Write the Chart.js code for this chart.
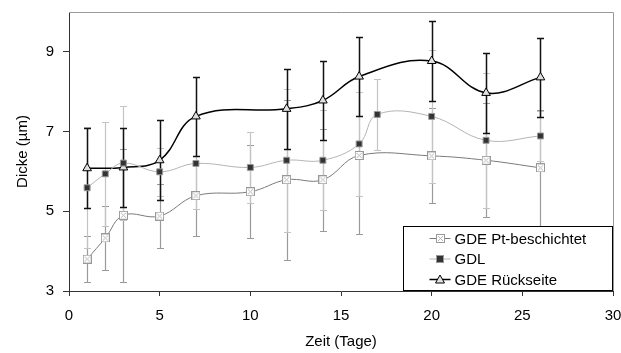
<!DOCTYPE html>
<html>
<head>
<meta charset="utf-8">
<script src="https://cdn.jsdelivr.net/npm/chart.js@4/dist/chart.umd.min.js"></script>
<style>
  html, body { margin: 0; padding: 0; background: #fff; }
</style>
</head>
<body>
<canvas id="thicknessChart" width="621" height="353"></canvas>
<script>
// --- DATA ---
const ptDays   = [1, 2, 3, 5, 7, 10, 12, 14, 16, 20, 23, 26];
const ptThick  = [3.8, 4.33, 4.9, 4.88, 5.39, 5.49, 5.79, 5.79, 6.4, 6.39, 6.28, 6.09];
const ptErr    = [0.57, 0.8, 1.67, 0.8, 1.0, 1.17, 2.0, 1.28, 1.96, 1.19, 1.43, 1.45];

const gdlDays  = [1, 2, 3, 5, 7, 10, 12, 14, 16, 17, 20, 23, 26];
const gdlThick = [5.59, 5.94, 6.21, 5.99, 6.2, 6.1, 6.28, 6.28, 6.69, 7.43, 7.38, 6.78, 6.89];
const gdlErr   = [1.52, 1.3, 1.43, 0.6, 1.14, 0.89, 1.8, 1.25, 1.3, 0.89, 1.67, 1.7, 0.63];

const backDays  = [1, 3, 5, 7, 12, 14, 16, 20, 23, 26];
const backThick = [6.08, 6.1, 6.28, 7.38, 7.57, 7.78, 8.38, 8.77, 7.97, 8.36];
const backErr   = [1.0, 1.0, 1.0, 1.0, 1.0, 1.0, 1.0, 1.0, 1.0, 1.0];

const seriesNames = ['GDE Pt-beschichtet', 'GDL', 'GDE Rückseite'];
const xTicks = [0, 5, 10, 15, 20, 25, 30];
const yTicks = [3, 5, 7, 9];

const FONT = { family: "'Liberation Sans', Arial, sans-serif", size: 15 };

function toPoints(xs, ys) {
    return xs.map((x, i) => ({ x: x, y: ys[i] }));
}

// small white box with a grey cross, like the Excel marker
function crossBox() {
    const c = document.createElement('canvas');
    c.width = 9; c.height = 9;
    const g = c.getContext('2d');
    g.fillStyle = '#fff';
    g.fillRect(0, 0, 9, 9);
    g.strokeStyle = '#999';
    g.lineWidth = 1;
    g.strokeRect(0.5, 0.5, 8, 8);
    g.strokeStyle = '#b5b5b5';
    g.beginPath();
    g.moveTo(2, 2); g.lineTo(7, 7);
    g.moveTo(7, 2); g.lineTo(2, 7);
    g.stroke();
    return c;
}
const ptMarker = crossBox();

// --- ERROR BARS ---
const errorBars = {
    id: 'errorBars',
    beforeDatasetsDraw(chart) {
        const { ctx, chartArea: a, scales: { x, y } } = chart;
        ctx.save();
        ctx.beginPath();
        ctx.rect(a.left, a.top, a.right - a.left, a.bottom - a.top);
        ctx.clip();
        chart.data.datasets.forEach(ds => {
            ctx.strokeStyle = ds.errColor;
            ctx.lineWidth = ds.errWidth;
            ds.data.forEach((p, i) => {
                const px = Math.round(x.getPixelForValue(p.x)) + 0.5;
                const top = Math.round(y.getPixelForValue(p.y + ds.err[i])) + 0.5;
                const bot = Math.round(y.getPixelForValue(p.y - ds.err[i])) + 0.5;
                ctx.beginPath();
                ctx.moveTo(px, top); ctx.lineTo(px, bot);
                ctx.moveTo(px - 3.5, top); ctx.lineTo(px + 3.5, top);
                ctx.moveTo(px - 3.5, bot); ctx.lineTo(px + 3.5, bot);
                ctx.stroke();
            });
        });
        ctx.restore();
    }
};

// --- PLOT FRAME + LEGEND BOX ---
function drawMarker(ctx, ds, cx, cy) {
    if (ds.pointStyle === 'triangle') {
        ctx.beginPath();
        ctx.moveTo(cx, cy - 4.5);
        ctx.lineTo(cx + 4.5, cy + 3.5);
        ctx.lineTo(cx - 4.5, cy + 3.5);
        ctx.closePath();
        ctx.fillStyle = ds.pointBackgroundColor;
        ctx.fill();
        ctx.strokeStyle = ds.pointBorderColor;
        ctx.lineWidth = 1;
        ctx.stroke();
    } else if (ds.pointStyle === 'rect') {
        ctx.fillStyle = ds.pointBackgroundColor;
        ctx.fillRect(cx - 3.5, cy - 3.5, 7, 7);
        ctx.strokeStyle = ds.pointBorderColor;
        ctx.lineWidth = 1;
        ctx.strokeRect(cx - 3.5, cy - 3.5, 7, 7);
    } else {
        ctx.drawImage(ds.pointStyle, Math.round(cx - 4.5), Math.round(cy - 4.5));
    }
}

const frameAndLegend = {
    id: 'frameAndLegend',
    afterDraw(chart) {
        const { ctx, chartArea: a } = chart;
        ctx.save();
        // top and right edge of the plot area
        ctx.strokeStyle = '#9a9a9a';
        ctx.lineWidth = 1;
        ctx.beginPath();
        ctx.moveTo(a.left, Math.round(a.top) + 0.5);
        ctx.lineTo(Math.round(a.right) + 0.5, Math.round(a.top) + 0.5);
        ctx.lineTo(Math.round(a.right) + 0.5, a.bottom);
        ctx.stroke();

        // legend box in the lower right corner
        const w = 209, h = 64;
        const lx = Math.round(a.right) - w - 1 + 0.5;
        const ly = Math.round(a.bottom) - h - 0.5;
        ctx.fillStyle = '#fff';
        ctx.fillRect(lx, ly, w, h);
        ctx.strokeStyle = '#000';
        ctx.strokeRect(lx, ly, w, h);

        ctx.font = FONT.size + 'px ' + FONT.family;
        ctx.textBaseline = 'middle';
        chart.data.datasets.forEach((ds, i) => {
            const cy = ly + 12 + i * 20.5;
            ctx.strokeStyle = ds.borderColor;
            ctx.lineWidth = ds.borderWidth;
            ctx.beginPath();
            ctx.moveTo(lx + 26, cy); ctx.lineTo(lx + 47, cy);
            ctx.stroke();
            drawMarker(ctx, ds, lx + 36.5, cy);
            ctx.fillStyle = '#000';
            ctx.fillText(ds.label, lx + 51, cy + 1);
        });
        ctx.restore();
    }
};

// --- CHART ---
new Chart(document.getElementById('thicknessChart'), {
    type: 'scatter',
    data: {
        datasets: [
            {
                label: seriesNames[0],
                data: toPoints(ptDays, ptThick),
                err: ptErr,
                errColor: '#9a9a9a',
                errWidth: 1.2,
                showLine: true,
                tension: 0.4,
                borderColor: '#7a7a7a',
                borderWidth: 1,
                pointStyle: ptMarker,
                pointRadius: 4.5
            },
            {
                label: seriesNames[1],
                data: toPoints(gdlDays, gdlThick),
                err: gdlErr,
                errColor: '#c4c4c4',
                errWidth: 1.2,
                showLine: true,
                tension: 0.4,
                borderColor: '#b4b4b4',
                borderWidth: 1,
                pointStyle: 'rect',
                pointRadius: 4.2,
                pointBackgroundColor: '#333',
                pointBorderColor: '#999',
                pointBorderWidth: 1
            },
            {
                label: seriesNames[2],
                data: toPoints(backDays, backThick),
                err: backErr,
                errColor: '#111',
                errWidth: 1.5,
                showLine: true,
                tension: 0.4,
                borderColor: '#000',
                borderWidth: 1.5,
                pointStyle: 'triangle',
                pointRadius: 5,
                pointBackgroundColor: '#e0e0e0',
                pointBorderColor: '#000',
                pointBorderWidth: 1
            }
        ]
    },
    options: {
        responsive: false,
        animation: false,
        layout: { padding: { top: 12, right: 8, left: 0, bottom: 0 } },
        plugins: {
            legend: { display: false },
            tooltip: { enabled: false }
        },
        scales: {
            x: {
                type: 'linear',
                min: 0,
                max: 30,
                afterBuildTicks: s => { s.ticks = xTicks.map(v => ({ value: v })); },
                afterFit: s => { s.height = 62; s.paddingLeft = 0; s.paddingRight = 0; },
                ticks: { color: '#000', font: FONT, padding: 11, maxRotation: 0 },
                grid: { drawOnChartArea: false, drawTicks: true, tickLength: 5, color: '#333' },
                border: { color: '#333', width: 1 },
                title: { display: true, text: 'Zeit (Tage)', color: '#000', font: FONT, padding: { top: 0, bottom: 2 } }
            },
            y: {
                type: 'linear',
                min: 3,
                max: 10,
                afterBuildTicks: s => { s.ticks = yTicks.map(v => ({ value: v })); },
                afterFit: s => { s.width = 69; s.paddingTop = 0; s.paddingBottom = 0; },
                ticks: { color: '#000', font: FONT, padding: 9 },
                grid: { drawOnChartArea: false, drawTicks: true, tickLength: 6, color: '#333' },
                border: { color: '#333', width: 1 },
                title: { display: true, text: 'Dicke (µm)', color: '#000', font: FONT, padding: { top: 14, bottom: 0 } }
            }
        }
    },
    plugins: [errorBars, frameAndLegend]
});
</script>
</body>
</html>
